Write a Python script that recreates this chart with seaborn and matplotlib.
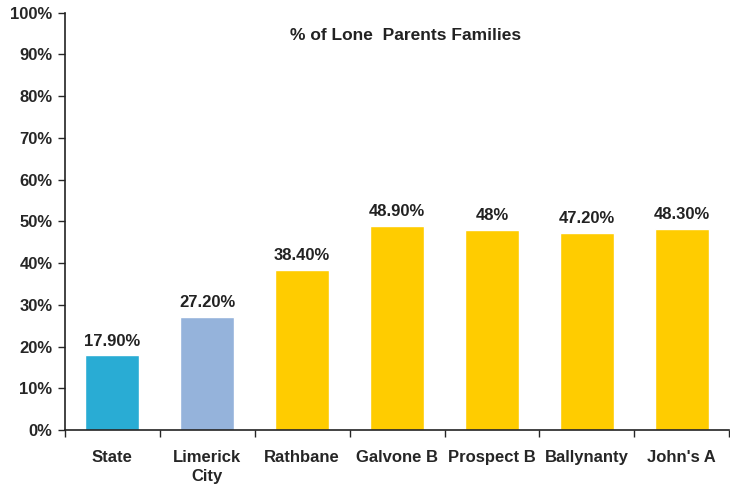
import matplotlib
matplotlib.use("Agg")
import matplotlib.pyplot as plt
import seaborn as sns
import pandas as pd
import numpy as np

categories = ["State", "Limerick\nCity", "Rathbane", "Galvone B", "Prospect B", "Ballynanty", "John's A"]
values = [17.9, 27.2, 38.4, 48.9, 48.0, 47.2, 48.3]
value_labels = ["17.90%", "27.20%", "38.40%", "48.90%", "48%", "47.20%", "48.30%"]
bar_colors = ["#29ACD4", "#95B3DB", "#FFCC00", "#FFCC00", "#FFCC00", "#FFCC00", "#FFCC00"]

sns.set_style("white")
plt.rcParams['font.family'] = ['Liberation Sans', 'DejaVu Sans']

df = pd.DataFrame({"area": categories, "pct": values})

fig = plt.figure(figsize=(7.3, 4.9), dpi=100)
ax = fig.add_axes([0.089, 0.122, 0.91, 0.852])

sns.barplot(data=df, x="area", y="pct", hue="area", palette=bar_colors,
            legend=False, width=0.57, saturation=1, ax=ax)

for cont, lab in zip(ax.containers, value_labels):
    ax.bar_label(cont, labels=[lab], padding=5, fontsize=12, fontweight="bold", color="#222222")

ax.set_ylim(0, 100)
ax.set_xlim(-0.5, 6.5)
ax.set_yticks(np.arange(0, 101, 10))
ax.set_yticklabels([f"{v}%" for v in range(0, 101, 10)], fontsize=12, fontweight="bold")
ax.tick_params(axis="y", direction="out", length=5, width=1, left=True, pad=4)
ax.tick_params(axis="x", which="major", length=0, pad=14, labelsize=12)
for t in ax.get_xticklabels():
    t.set_fontweight("bold")
    t.set_linespacing(1.4)
ax.set_xticks(np.arange(-0.5, 7, 1), minor=True)
ax.tick_params(axis="x", which="minor", direction="out", length=5, width=1, bottom=True)

ax.set_xlabel("")
ax.set_ylabel("")
for s in ["top", "right"]:
    ax.spines[s].set_visible(False)
for s in ["left", "bottom"]:
    ax.spines[s].set_color("#222222")
    ax.spines[s].set_linewidth(1.2)

ax.text(0.512, 0.945, "% of Lone  Parents Families", transform=ax.transAxes,
        ha="center", va="center", fontsize=12.5, fontweight="bold", color="#222222")

fig.savefig("out.png", dpi=100)
